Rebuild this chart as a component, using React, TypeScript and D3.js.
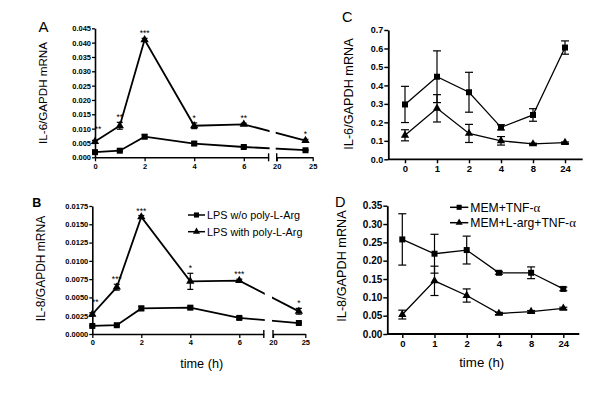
import { useEffect, useRef } from 'react';
import * as d3 from 'd3';

// LPS time course (panels A, B) – broken x axis
const lpsHours = [0, 1, 2, 4, 6, 24];
const lpsLeftTicks = [0, 2, 4, 6];
const lpsRightTicks = [20, 25];

const il6LpsNoArg = [0.0018, 0.0023, 0.0072, 0.0048, 0.0036, 0.0025];
const il6LpsNoArgErr = [0.0003, 0.0003, 0.0007, 0.0006, 0.0004, 0.0002];
const il6LpsArg = [0.0055, 0.011, 0.041, 0.011, 0.0115, 0.0058];
const il6LpsArgErr = [0.0004, 0.0012, 0.0005, 0.001, 0.0004, 0.0005];
const il6LpsStars = ['**', '**', '***', '*', '**', '*'];
const il6LpsTicks = [0, 0.005, 0.01, 0.015, 0.02, 0.025, 0.03, 0.035, 0.04, 0.045];

const il8LpsNoArg = [0.0011, 0.0012, 0.0035, 0.0036, 0.0022, 0.0015];
const il8LpsNoArgErr = [0.0001, 0.0001, 0.0003, 0.0002, 0.0002, 0.0001];
const il8LpsArg = [0.0027, 0.0064, 0.016, 0.0072, 0.0073, 0.0031];
const il8LpsArgErr = [0.0002, 0.0004, 0.0002, 0.0011, 0.0002, 0.0004];
const il8LpsStars = ['**', '***', '***', '*', '***', '*'];
const il8LpsTicks = [0, 0.0025, 0.005, 0.0075, 0.01, 0.0125, 0.015, 0.0175];

const lpsLegend = ['LPS w/o poly-L-Arg', 'LPS with poly-L-Arg'];

// TNF-α time course (panels C, D) – categorical x axis
const tnfHours = ['0', '1', '2', '4', '8', '24'];

const il6Mem = [0.297, 0.447, 0.363, 0.173, 0.24, 0.605];
const il6MemErr = [0.098, 0.14, 0.108, 0.014, 0.034, 0.036];
const il6Larg = [0.13, 0.276, 0.14, 0.1, 0.083, 0.09];
const il6LargErr = [0.03, 0.074, 0.049, 0.023, 0.004, 0.004];
const il6MemTicks = [0, 0.1, 0.2, 0.3, 0.4, 0.5, 0.6, 0.7];

const il8Mem = [0.258, 0.219, 0.229, 0.167, 0.167, 0.123];
const il8MemErr = [0.07, 0.053, 0.038, 0.004, 0.016, 0.005];
const il8Larg = [0.053, 0.145, 0.105, 0.056, 0.061, 0.07];
const il8LargErr = [0.012, 0.04, 0.018, 0.003, 0.003, 0.003];
const il8MemTicks = [0, 0.05, 0.1, 0.15, 0.2, 0.25, 0.3, 0.35];

const tnfLegend = ['MEM+TNF-α', 'MEM+L-arg+TNF-α'];

const FONT = "'Liberation Sans', Arial, Helvetica, sans-serif";
const SERIF = "'Liberation Serif', 'DejaVu Serif', serif";

type Sel = d3.Selection<SVGGElement, unknown, null, undefined>;
type Series = { values: number[]; errs: number[]; shape: 'square' | 'triangle' };

const squareSym = d3.symbol().type(d3.symbolSquare).size(36);
const triangleSym = d3.symbol().type(d3.symbolTriangle).size(30);

function marker(g: Sel, shape: string, x: number, y: number, scale = 1) {
  const sym = shape === 'square' ? squareSym : triangleSym;
  g.append('path')
    .attr('d', sym()!)
    .attr('transform', `translate(${x},${y}) scale(${scale})`)
    .attr('fill', '#000');
}

function drawSeries(g: Sel, xs: number[], y: d3.ScaleLinear<number, number>, series: Series[], lineW: number, cap: number) {
  series.forEach((s) => {
    const pts = s.values.map((v, i) => [xs[i], y(v)] as [number, number]);
    g.append('path')
      .attr('d', d3.line()(pts))
      .attr('fill', 'none')
      .attr('stroke', '#000')
      .attr('stroke-width', lineW);
  });
  series.forEach((s) => {
    s.values.forEach((v, i) => {
      const x = xs[i];
      const hi = y(v + s.errs[i]);
      const lo = y(v - s.errs[i]);
      g.append('line').attr('x1', x).attr('x2', x).attr('y1', hi).attr('y2', lo)
        .attr('stroke', '#000').attr('stroke-width', 1.2);
      [hi, lo].forEach((yy) => {
        g.append('line').attr('x1', x - cap / 2).attr('x2', x + cap / 2).attr('y1', yy).attr('y2', yy)
          .attr('stroke', '#000').attr('stroke-width', 1.2);
      });
      marker(g, s.shape, x, y(v));
    });
  });
}

function styleAxis(ax: Sel, fontSize: number, width: number) {
  ax.select('.domain').attr('stroke-width', width);
  ax.selectAll('.tick line').attr('stroke-width', width * 0.8);
  ax.selectAll('.tick text')
    .attr('font-family', FONT)
    .attr('font-size', fontSize)
    .attr('font-weight', 'bold')
    .attr('fill', '#000');
}

function yTitle(svg: Sel, text: string, x: number, yc: number, size: number) {
  svg.append('text')
    .attr('transform', `translate(${x},${yc}) rotate(-90)`)
    .attr('text-anchor', 'middle')
    .attr('font-family', FONT)
    .attr('font-size', size)
    .text(text);
}

function panelLetter(svg: Sel, text: string, x: number, y: number, size: number, bold: boolean) {
  svg.append('text')
    .attr('x', x).attr('y', y)
    .attr('text-anchor', 'middle')
    .attr('font-family', FONT)
    .attr('font-size', size)
    .attr('font-weight', bold ? 'bold' : 'normal')
    .text(text);
}

function legend(svg: Sel, labels: string[], x0: number, x1: number, y0: number, dy: number, size: number) {
  const shapes = ['square', 'triangle'];
  labels.forEach((lab, i) => {
    const yy = y0 + i * dy;
    svg.append('line').attr('x1', x0).attr('x2', x1).attr('y1', yy).attr('y2', yy)
      .attr('stroke', '#000').attr('stroke-width', 1.5);
    marker(svg, shapes[i], (x0 + x1) / 2, yy, 0.85);
    const t = svg.append('text')
      .attr('x', x1 + 2).attr('y', yy + size * 0.36)
      .attr('font-family', FONT)
      .attr('font-size', size);
    // Greek letters set in a serif face, like the original symbol font
    lab.split(/(α)/).filter((p) => p).forEach((part) => {
      const span = t.append('tspan').text(part);
      if (part === 'α') span.attr('font-family', SERIF).attr('font-size', size * 1.05);
    });
  });
}

interface BrokenOpts {
  id: string;
  left: [number, number];
  right: [number, number];
  bottom: number;
  top: number;
  ticks: number[];
  fmt: string;
  noArg: number[];
  noArgErr: number[];
  withArg: number[];
  withArgErr: number[];
  stars: string[];
}

function brokenPanel(svg: Sel, o: BrokenOpts) {
  const yMax = o.ticks[o.ticks.length - 1];
  const y = d3.scaleLinear().domain([0, yMax]).range([o.bottom, o.top]);
  const xl = d3.scaleLinear().domain([0, 7]).range(o.left);
  const xr = d3.scaleLinear().domain([20, 25]).range(o.right);
  const xs = lpsHours.map((h) => (h <= 7 ? xl(h) : xr(h)));

  const yAx = svg.append('g')
    .attr('transform', `translate(${o.left[0]},0)`)
    .call(d3.axisLeft(y).tickValues(o.ticks).tickFormat(d3.format(o.fmt)).tickSize(3).tickSizeOuter(0).tickPadding(1));
  styleAxis(yAx, 7.5, 1.6);

  const lAx = svg.append('g')
    .attr('transform', `translate(0,${o.bottom})`)
    .call(d3.axisBottom(xl).tickValues(lpsLeftTicks).tickFormat(d3.format('d')).tickSize(4).tickSizeOuter(0).tickPadding(2));
  styleAxis(lAx, 7.5, 1.6);
  const rAx = svg.append('g')
    .attr('transform', `translate(0,${o.bottom})`)
    .call(d3.axisBottom(xr).tickValues(lpsRightTicks).tickFormat(d3.format('d')).tickSize(4).tickSizeOuter(0).tickPadding(2));
  styleAxis(rAx, 7.5, 1.6);
  // break bars
  [o.left[1], o.right[0]].forEach((bx) => {
    svg.append('line').attr('x1', bx).attr('x2', bx).attr('y1', o.bottom - 4).attr('y2', o.bottom + 4)
      .attr('stroke', '#000').attr('stroke-width', 1.4);
  });

  const clip = svg.append('clipPath').attr('id', `clip-${o.id}`);
  clip.append('rect').attr('x', 0).attr('y', 0).attr('width', o.left[1] + 1).attr('height', 400);
  clip.append('rect').attr('x', o.right[0] - 1).attr('y', 0).attr('width', 600).attr('height', 400);

  const g = svg.append('g').attr('clip-path', `url(#clip-${o.id})`);
  drawSeries(g, xs, y, [
    { values: o.noArg, errs: o.noArgErr, shape: 'square' },
    { values: o.withArg, errs: o.withArgErr, shape: 'triangle' },
  ], 1.8, 6);

  o.stars.forEach((s, i) => {
    svg.append('text')
      .attr('x', xs[i] + (i === 0 ? 3 : 0))
      .attr('y', y(o.withArg[i] + o.withArgErr[i]) - (i === 0 ? 8 : 2))
      .attr('text-anchor', 'middle')
      .attr('font-family', FONT)
      .attr('font-size', 8.5)
      .text(s);
  });
}

interface CatOpts {
  range: [number, number];
  axisEnd: number;
  left: number;
  bottom: number;
  top: number;
  ticks: number[];
  fmt: string;
  tickFont: number;
  mem: number[];
  memErr: number[];
  larg: number[];
  largErr: number[];
}

function catPanel(svg: Sel, o: CatOpts) {
  const yMax = o.ticks[o.ticks.length - 1];
  const y = d3.scaleLinear().domain([0, yMax]).range([o.bottom, o.top]);
  const x = d3.scalePoint<string>().domain(tnfHours).range(o.range).padding(0.5);
  const xs = tnfHours.map((h) => x(h)!);

  const yAx = svg.append('g')
    .attr('transform', `translate(${o.left},0)`)
    .call(d3.axisLeft(y).tickValues(o.ticks).tickFormat(d3.format(o.fmt)).tickSize(4).tickSizeOuter(0).tickPadding(1));
  styleAxis(yAx, o.tickFont, 1.8);

  const xAx = svg.append('g')
    .attr('transform', `translate(0,${o.bottom})`)
    .call(d3.axisBottom(x).tickSize(4).tickSizeOuter(0).tickPadding(2));
  xAx.select('.domain').remove();
  xAx.append('line').attr('x1', o.left).attr('x2', o.axisEnd).attr('y1', 0).attr('y2', 0)
    .attr('stroke', '#000').attr('stroke-width', 1.8);
  styleAxis(xAx, 9.5, 1.8);

  drawSeries(svg.append('g'), xs, y, [
    { values: o.mem, errs: o.memErr, shape: 'square' },
    { values: o.larg, errs: o.largErr, shape: 'triangle' },
  ], 1.3, 8);
}

export default function App() {
  const ref = useRef<SVGSVGElement>(null);

  useEffect(() => {
    if (!ref.current) return;
    const root = d3.select(ref.current);
    root.selectAll('*').remove();
    const svg = root.append('g') as unknown as Sel;

    // Panel A
    panelLetter(svg, 'A', 43.5, 31.5, 15, false);
    yTitle(svg, 'IL-6/GAPDH mRNA', 46.5, 93, 11.6);
    brokenPanel(svg, {
      id: 'a', left: [95, 268.6], right: [276.7, 312.7], bottom: 157.3, top: 28.3,
      ticks: il6LpsTicks, fmt: '.3f',
      noArg: il6LpsNoArg, noArgErr: il6LpsNoArgErr, withArg: il6LpsArg, withArgErr: il6LpsArgErr,
      stars: il6LpsStars,
    });

    // Panel B
    panelLetter(svg, 'B', 36.7, 207.3, 12.5, true);
    yTitle(svg, 'IL-8/GAPDH mRNA', 45, 268.5, 12);
    brokenPanel(svg, {
      id: 'b', left: [92.3, 263.8], right: [273, 305.3], bottom: 334, top: 206,
      ticks: il8LpsTicks, fmt: '.4f',
      noArg: il8LpsNoArg, noArgErr: il8LpsNoArgErr, withArg: il8LpsArg, withArgErr: il8LpsArgErr,
      stars: il8LpsStars,
    });
    legend(svg, lpsLegend, 188, 205, 215, 16.7, 10.8);
    svg.append('text')
      .attr('x', 201.7).attr('y', 367.5)
      .attr('text-anchor', 'middle')
      .attr('font-family', FONT)
      .attr('font-size', 12.7)
      .text('time (h)');

    // Panel C
    panelLetter(svg, 'C', 347.3, 21.8, 14.5, false);
    yTitle(svg, 'IL-6/GAPDH mRNA', 352.5, 94, 12.7);
    catPanel(svg, {
      range: [389, 581], axisEnd: 582.7, left: 388.3, bottom: 159.3, top: 30,
      ticks: il6MemTicks, fmt: '.1f', tickFont: 9,
      mem: il6Mem, memErr: il6MemErr, larg: il6Larg, largErr: il6LargErr,
    });

    // Panel D
    panelLetter(svg, 'D', 340.2, 206.7, 14.5, false);
    yTitle(svg, 'IL-8/GAPDH mRNA', 345.5, 266, 12.7);
    catPanel(svg, {
      range: [386.2, 579.4], axisEnd: 579.3, left: 387.3, bottom: 334, top: 205.7,
      ticks: il8MemTicks, fmt: '.2f', tickFont: 10,
      mem: il8Mem, memErr: il8MemErr, larg: il8Larg, largErr: il8LargErr,
    });
    legend(svg, tnfLegend, 450, 468.3, 207.3, 15.4, 12.2);
    svg.append('text')
      .attr('x', 481.7).attr('y', 366.5)
      .attr('text-anchor', 'middle')
      .attr('font-family', FONT)
      .attr('font-size', 13.3)
      .text('time (h)');
  }, []);

  return (
    <svg
      ref={ref}
      width={600}
      height={400}
      style={{ position: 'absolute', left: 0, top: 0, background: '#fff' }}
    />
  );
}
